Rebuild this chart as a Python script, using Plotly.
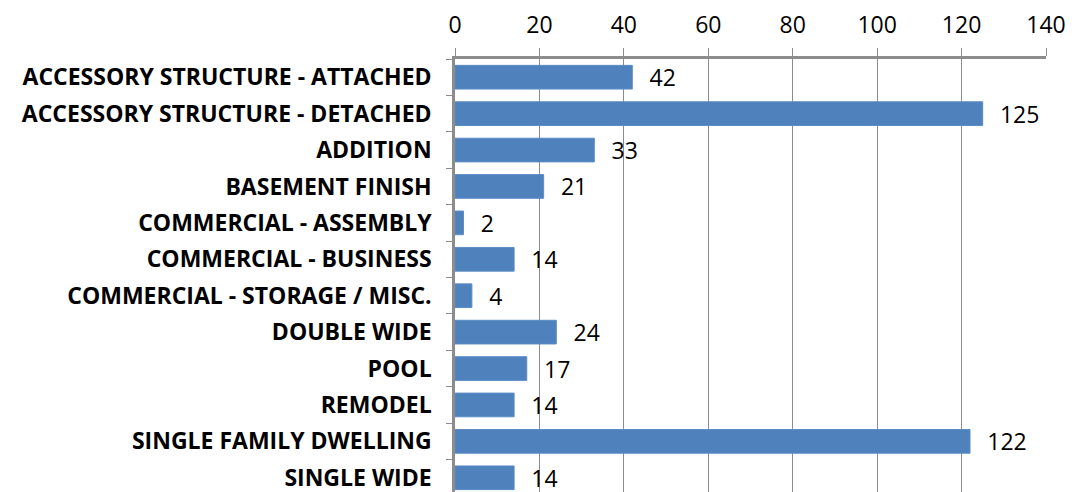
import plotly.graph_objects as go

categories = [
    "ACCESSORY STRUCTURE - ATTACHED",
    "ACCESSORY STRUCTURE - DETACHED",
    "ADDITION",
    "BASEMENT FINISH",
    "COMMERCIAL - ASSEMBLY",
    "COMMERCIAL - BUSINESS",
    "COMMERCIAL - STORAGE / MISC.",
    "DOUBLE WIDE",
    "POOL",
    "REMODEL",
    "SINGLE FAMILY DWELLING",
    "SINGLE WIDE",
]
values = [42, 125, 33, 21, 2, 14, 4, 24, 17, 14, 122, 14]
x_ticks = [0, 20, 40, 60, 80, 100, 120, 140]

fig = go.Figure(
    go.Bar(
        y=categories,
        x=values,
        orientation="h",
        marker=dict(color="#4F81BD", line=dict(color="#5B8CC6", width=1)),
        text=["  \u200a" + str(v) for v in values],
        textposition="outside",
        constraintext="none",
        textfont=dict(family="Open Sans", size=23, color="#000000"),
        cliponaxis=False,
    )
)

fig.update_layout(
    width=1070,
    height=488,
    margin=dict(l=447, r=32, t=44, b=0),
    paper_bgcolor="white",
    plot_bgcolor="white",
    bargap=0.35,
    showlegend=False,
    font=dict(family="Open Sans", color="#000000"),
)

fig.update_xaxes(
    side="top",
    range=[0, 140],
    tickvals=x_ticks,
    ticktext=[str(t) for t in x_ticks],
    tickfont=dict(family="Open Sans", size=23, color="#000000"),
    showgrid=True,
    gridcolor="#8C8C8C",
    gridwidth=1,
    showline=True,
    linecolor="#8C8C8C",
    linewidth=2.5,
    ticks="outside",
    ticklen=8,
    tickcolor="#8C8C8C",
    ticklabelstandoff=6,
    zeroline=False,
)

fig.update_yaxes(
    categoryorder="array",
    categoryarray=categories,
    range=[11.5, -0.5],
    tickfont=dict(family="Open Sans", size=23, color="#000000", weight="bold"),
    showline=True,
    linecolor="#8C8C8C",
    linewidth=2.5,
    ticks="outside",
    tickson="boundaries",
    ticklen=6,
    tickcolor="#8C8C8C",
    ticklabelstandoff=16,
    showgrid=False,
)

fig.write_html("out.html")
